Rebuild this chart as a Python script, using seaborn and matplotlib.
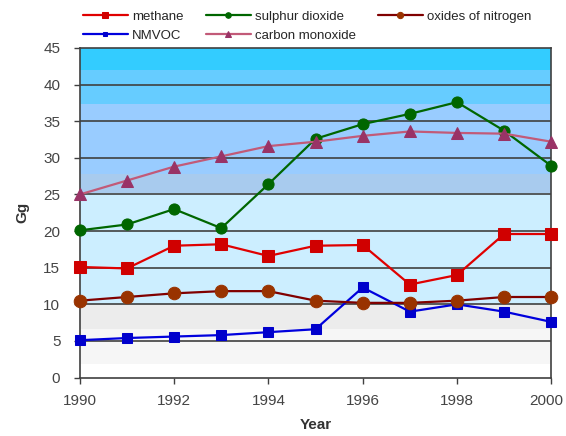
import numpy as np
import pandas as pd
import matplotlib
matplotlib.use('Agg')
import matplotlib.pyplot as plt
import matplotlib.transforms as mtransforms
import seaborn as sns

# values (Gg)
years = [1990, 1991, 1992, 1993, 1994, 1995, 1996, 1997, 1998, 1999, 2000]
methane = [15.1, 14.9, 18.0, 18.2, 16.6, 18.0, 18.1, 12.7, 14.0, 19.6, 19.6]
nmvoc = [5.1, 5.4, 5.6, 5.8, 6.2, 6.6, 12.3, 9.0, 10.0, 9.0, 7.6]
sulphur_dioxide = [20.1, 20.9, 23.0, 20.4, 26.4, 32.6, 34.6, 36.0, 37.6, 33.7, 28.9]
carbon_monoxide = [25.0, 26.9, 28.8, 30.2, 31.6, 32.2, 33.0, 33.6, 33.4, 33.3, 32.2]
nitrogen_oxides = [10.5, 11.0, 11.5, 11.8, 11.8, 10.5, 10.2, 10.2, 10.5, 11.0, 11.0]

series_names = ['methane', 'NMVOC', 'sulphur dioxide', 'carbon monoxide', 'oxides of nitrogen']
series_values = [methane, nmvoc, sulphur_dioxide, carbon_monoxide, nitrogen_oxides]

# line colour, marker face colour, marker, marker size
styles = {
    'methane': ('#e00000', '#d00000', 's', 9),
    'NMVOC': ('#0000dd', '#0000cc', 's', 7),
    'sulphur dioxide': ('#006600', '#006600', 'o', 8),
    'carbon monoxide': ('#c25a78', '#993366', '^', 9),
    'oxides of nitrogen': ('#800000', '#993300', 'o', 9),
}

df = pd.DataFrame({'year': np.tile(years, len(series_names)),
                   'value': np.concatenate(series_values),
                   'series': np.repeat(series_names, len(years))})

sns.set_style('white')
plt.rcParams['font.family'] = ['Liberation Sans', 'DejaVu Sans']

fig = plt.figure(figsize=(5.66, 4.36), dpi=100)
ax = fig.add_axes([0.141, 0.134, 0.833, 0.756])

# excel-like banded background fill
bands = [(0, 1.8, '#ffffff'), (1.8, 6.6, '#f6f6f6'), (6.6, 10, '#ececec'),
         (10, 25.2, '#cceeff'), (25.2, 27.8, '#a8cbee'), (27.8, 37.3, '#99ccff'),
         (37.3, 42, '#66ccff'), (42, 45, '#33ccff')]
for lo, hi, c in bands:
    ax.axhspan(lo, hi, color=c, zorder=0, lw=0)

for yv in range(5, 45, 5):
    ax.axhline(yv, color='#404040', lw=1.2, zorder=1)

for name in series_names:
    line_c, face_c, mk, ms = styles[name]
    sub = df[df['series'] == name]
    sns.lineplot(data=sub, x='year', y='value', ax=ax, color=line_c, lw=1.6,
                 marker=mk, markersize=ms, markerfacecolor=face_c,
                 markeredgecolor=face_c, label=name, zorder=3, clip_on=False)

ax.set_xlim(1990, 2000)
ax.set_ylim(0, 45)
ax.set_xticks(range(1990, 2001, 2))
ax.set_yticks(range(0, 46, 5))
ax.tick_params(axis='both', labelsize=11, labelcolor='#444444', direction='out',
               length=4, width=1, color='#404040', left=True, bottom=True)
ax.tick_params(axis='x', pad=8)
ax.tick_params(axis='y', pad=10)
for sp in ax.spines.values():
    sp.set_color('#404040')
    sp.set_linewidth(1.2)

# nudge the last year label so it stays inside the figure
last = ax.get_xticklabels()[-1]
last.set_transform(last.get_transform() +
                   mtransforms.ScaledTranslation(-5 / 100, 0, fig.dpi_scale_trans))

ax.set_xlabel('Year', fontsize=11, fontweight='bold', color='#333333', labelpad=7)
ax.set_ylabel('Gg', fontsize=11, fontweight='bold', color='#333333', labelpad=10)

handles, labels = ax.get_legend_handles_labels()
ax.legend(handles, labels, ncol=3, loc='lower left', bbox_to_anchor=(-0.01, 0.995),
          frameon=False, fontsize=9.5, handlelength=3.4, handletextpad=0.3,
          columnspacing=1.7, labelspacing=0.5, markerscale=0.5, borderpad=0.1)

fig.savefig('out.png', dpi=100)
